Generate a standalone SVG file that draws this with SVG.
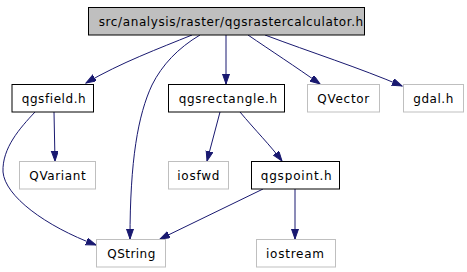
<svg xmlns="http://www.w3.org/2000/svg" width="467" height="272" viewBox="0 0 467 272">
  <style>
    .box { fill: #ffffff; stroke: #000000; stroke-width: 1; }
    .ext { fill: #ffffff; stroke: #bfbfbf; stroke-width: 1; }
    .root { fill: #bfbfbf; stroke: #000000; stroke-width: 1; }
    .lbl { font-family: "DejaVu Sans", sans-serif; font-size: 12px; letter-spacing: 0.5px; fill: #000000; }
    .edge { fill: none; stroke: #191970; stroke-width: 1; marker-end: url(#arrow); }
  </style>
  <defs>
    <marker id="arrow" markerUnits="userSpaceOnUse" markerWidth="11" markerHeight="8" refX="10" refY="3.5" orient="auto">
      <path d="M0,0 L10,3.5 L0,7 z" fill="#191970" stroke="#191970" stroke-width="1"/>
    </marker>
  </defs>
  <rect width="467" height="272" fill="#ffffff"/>

  <g id="edges">
    <path class="edge" d="M192,35 C160,48 120,63 86,83"/>
    <path class="edge" d="M200,35 C178,48 162,65 152,85 C138,115 130,160 130,239"/>
    <path class="edge" d="M226,35 L226,84"/>
    <path class="edge" d="M248,35 C270,50 296,67 320,84"/>
    <path class="edge" d="M265,35 C310,52 360,68 402,86"/>
    <path class="edge" d="M54,112 L55,161"/>
    <path class="edge" d="M35,112 C20,128 2,148 3,172 C5,196 45,226 96,245"/>
    <path class="edge" d="M220,112 L207,161"/>
    <path class="edge" d="M240,112 C255,130 270,145 282,161"/>
    <path class="edge" d="M263,189 L160,239"/>
    <path class="edge" d="M295,189 L295,239"/>
  </g>

  <g id="node-root">
    <rect class="root" x="88.5" y="7.5" width="276" height="27.5"/>
    <text class="lbl" x="98.7" y="25.5" textLength="265" lengthAdjust="spacing">src/analysis/raster/qgsrastercalculator.h</text>
  </g>
  <g id="node-qgsfield">
    <rect class="box" x="12" y="84.5" width="81.5" height="27.5"/>
    <text class="lbl" x="21.7" y="102.5" textLength="64.5" lengthAdjust="spacing">qgsfield.h</text>
  </g>
  <g id="node-qgsrectangle">
    <rect class="box" x="168.5" y="84.5" width="116" height="27.5"/>
    <text class="lbl" x="178.7" y="102.5" textLength="99" lengthAdjust="spacing">qgsrectangle.h</text>
  </g>
  <g id="node-qvector">
    <rect class="ext" x="307.5" y="84.5" width="72" height="27.5"/>
    <text class="lbl" x="317.3" y="102.5" textLength="52.5" lengthAdjust="spacing">QVector</text>
  </g>
  <g id="node-gdal">
    <rect class="ext" x="403.5" y="84.5" width="60" height="27.5"/>
    <text class="lbl" x="413.3" y="102.5" textLength="40.5" lengthAdjust="spacing">gdal.h</text>
  </g>
  <g id="node-qvariant">
    <rect class="ext" x="19.5" y="161.5" width="76" height="27.5"/>
    <text class="lbl" x="29.3" y="179.5" textLength="57" lengthAdjust="spacing">QVariant</text>
  </g>
  <g id="node-iosfwd">
    <rect class="ext" x="168.5" y="161.5" width="60" height="27.5"/>
    <text class="lbl" x="177.3" y="179.5" textLength="42.5" lengthAdjust="spacing">iosfwd</text>
  </g>
  <g id="node-qgspoint">
    <rect class="box" x="251.5" y="161.5" width="88" height="27.5"/>
    <text class="lbl" x="260.7" y="179.5" textLength="71.5" lengthAdjust="spacing">qgspoint.h</text>
  </g>
  <g id="node-qstring">
    <rect class="ext" x="96.5" y="239.5" width="69" height="27.5"/>
    <text class="lbl" x="107.3" y="257.5" textLength="48.5" lengthAdjust="spacing">QString</text>
  </g>
  <g id="node-iostream">
    <rect class="ext" x="256.5" y="239.5" width="79" height="27.5"/>
    <text class="lbl" x="266" y="257.5" textLength="58.5" lengthAdjust="spacing">iostream</text>
  </g>
</svg>
